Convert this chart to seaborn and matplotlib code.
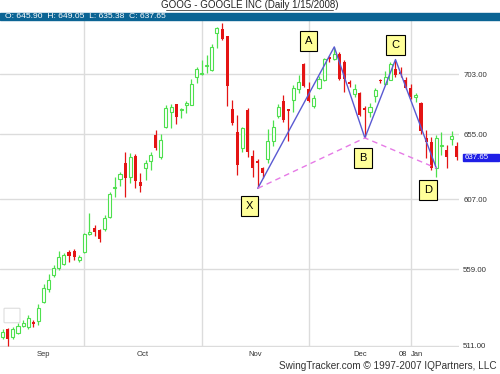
import numpy as np
import pandas as pd
import matplotlib
matplotlib.use("Agg")
import matplotlib.pyplot as plt
import seaborn as sns
from matplotlib.patches import Rectangle, FancyBboxPatch
from matplotlib.lines import Line2D
from matplotlib.ticker import NullLocator, NullFormatter
from matplotlib.transforms import blended_transform_factory

# Daily GOOG candles, 7 Sep 2007 .. 15 Jan 2008
opens = [516.3, 521.0, 516.4, 519.0, 523.2, 522.5, 525.8, 526.0, 538.0, 546.0,
         555.0, 559.8, 562.6, 570.6, 571.0, 565.2, 570.8, 582.8, 586.5, 585.4,
         585.9, 594.5, 614.7, 621.5, 633.5, 623.1, 638.5, 619.5, 630.0, 635.0,
         654.2, 637.6, 660.9, 672.6, 678.5, 674.0, 677.8, 678.4, 700.3, 703.0,
         710.0, 706.3, 737.5, 741.0, 735.0, 674.8, 656.7, 644.8, 674.0, 638.3,
         635.0, 629.7, 636.3, 650.3, 669.5, 681.0, 674.8, 682.0, 690.8, 711.2,
         690.8, 677.2, 692.0, 698.0, 717.0, 716.0, 720.0, 713.2, 696.5, 687.2,
         688.0, 675.4, 672.7, 685.0, 698.6, 695.2, 698.6, 707.2, 705.2, 698.6,
         692.0, 684.7, 679.5, 652.5, 649.3, 629.6, 645.8, 643.0, 651.3, 645.90]
highs = [521.0, 521.7, 522.6, 524.8, 526.7, 529.8, 527.0, 536.7, 549.4, 556.0,
         561.9, 571.2, 570.0, 571.8, 572.3, 568.5, 583.6, 597.0, 588.8, 586.0,
         595.9, 612.3, 623.0, 626.5, 641.7, 640.5, 640.0, 626.0, 635.5, 641.7,
         658.3, 655.0, 677.8, 678.5, 679.0, 676.0, 681.5, 699.4, 709.0, 714.7,
         718.8, 728.5, 743.0, 746.7, 735.5, 682.0, 669.8, 660.4, 675.4, 643.0,
         636.0, 630.5, 659.5, 666.0, 679.0, 685.8, 675.0, 694.0, 702.7, 712.0,
         696.7, 685.8, 701.6, 716.6, 718.5, 725.9, 721.4, 714.7, 698.6, 695.2,
         688.5, 677.0, 679.5, 691.4, 699.4, 705.8, 713.2, 715.2, 709.2, 700.8,
         695.2, 687.5, 680.4, 658.3, 653.2, 654.2, 657.0, 646.8, 657.8, 649.05]
lows = [515.0, 511.0, 514.9, 518.0, 522.5, 521.5, 522.5, 523.8, 537.2, 544.4,
        554.0, 558.7, 561.8, 564.0, 565.2, 564.0, 569.6, 582.3, 581.6, 577.2,
        585.0, 593.6, 608.8, 616.5, 608.8, 618.4, 615.0, 612.0, 621.0, 628.0,
        643.0, 636.0, 659.6, 659.6, 663.4, 667.4, 672.0, 677.7, 696.0, 702.0,
        703.6, 705.5, 724.9, 732.0, 677.5, 662.0, 624.8, 641.7, 638.0, 623.0,
        614.8, 622.0, 633.5, 645.8, 667.4, 664.7, 649.8, 672.6, 687.5, 692.4,
        680.2, 675.7, 690.8, 697.3, 713.0, 715.0, 698.0, 688.5, 692.6, 684.5,
        669.0, 652.3, 668.6, 680.4, 696.0, 694.0, 698.0, 700.8, 700.8, 690.5,
        683.2, 680.4, 655.6, 637.0, 628.0, 623.0, 639.3, 629.6, 646.8, 635.38]
closes = [519.4, 515.4, 521.0, 523.2, 524.8, 527.8, 524.0, 534.0, 546.6, 552.0,
          559.7, 567.4, 568.5, 568.0, 567.0, 567.0, 582.4, 584.0, 584.3, 579.6,
          593.5, 611.0, 616.0, 625.3, 622.4, 638.0, 620.0, 616.6, 633.5, 639.3,
          644.8, 650.6, 676.0, 676.5, 668.6, 675.0, 680.0, 694.8, 707.0, 704.0,
          711.0, 725.7, 741.8, 733.0, 693.2, 663.5, 631.7, 659.9, 641.7, 629.6,
          633.5, 625.7, 650.3, 660.5, 676.5, 666.0, 673.5, 692.0, 696.2, 693.2,
          681.2, 683.8, 699.0, 716.0, 716.0, 720.0, 699.4, 699.4, 695.2, 690.5,
          670.0, 674.0, 676.6, 690.0, 697.0, 700.8, 711.8, 702.2, 703.5, 692.0,
          684.5, 685.8, 657.8, 649.3, 629.6, 652.5, 647.0, 638.0, 653.9, 637.65]

# first trading day of Oct, Nov, Dec, Jan (candle index)
month_starts = [16, 39, 60, 80]
month_labels = ["Sep", "Oct", "Nov", "Dec", "08", "Jan"]
month_label_pos = [8, 27.5, 49.5, 70, 78.5, 81.3]

price_ticks = [511, 559, 607, 655, 703]

# XABCD harmonic pattern
pattern_labels = ["X", "A", "B", "C", "D"]
pattern_day = [50, 65, 71, 77, 85]
pattern_price = [614.8, 725.9, 652.3, 715.2, 629.6]

df = pd.DataFrame({"open": opens, "high": highs, "low": lows, "close": closes})
df["day"] = np.arange(len(df))
up = df[df.close >= df.open]
down = df[df.close < df.open]

sns.set_theme(style="white")
plt.rcParams["font.family"] = ["Liberation Sans", "DejaVu Sans"]

GREEN = "#4ee04e"
RED = "#e41414"
GRID = "#dcdcdc"

fig = plt.figure(figsize=(5, 3.74), dpi=100)
ax = fig.add_axes([0, 27 / 374, 459 / 500, 327 / 374])
ax.set_yscale("log")
ax.set_ylim(510.3, 749.2)
ax.set_xlim(-0.53, 89.45)

# grid
for t in price_ticks:
    ax.axhline(t, color=GRID, lw=1, zorder=0)
for m in month_starts:
    ax.axvline(m, color=GRID, lw=1, zorder=0)

# candles
ax.vlines(up.day, up.low, up.high, color=GREEN, lw=0.9, zorder=2)
ax.bar(up.day, up.close - up.open, bottom=up.open, width=0.6,
       facecolor="white", edgecolor=GREEN, lw=0.8, zorder=3)
ax.vlines(down.day, down.low, down.high, color=RED, lw=0.9, zorder=2)
ax.bar(down.day, down.open - down.close, bottom=down.close, width=0.6,
       color=RED, lw=0, zorder=3)

# pattern legs
sns.lineplot(x=pattern_day, y=pattern_price, sort=False, estimator=None,
             color="#5a5ad2", lw=1, ax=ax, zorder=4)
xbd = [0, 2, 4]
sns.lineplot(x=[pattern_day[i] for i in xbd], y=[pattern_price[i] for i in xbd],
             sort=False, estimator=None, color="#e67ae6", lw=1,
             linestyle=(0, (4, 3)), ax=ax, zorder=4)

label_offsets = [(-8, -18), (-25.5, 5.7), (-2, -20.2), (0, 14.3), (-8, -22)]
for lbl, d, p, off in zip(pattern_labels, pattern_day, pattern_price, label_offsets):
    ax.annotate(lbl, xy=(d, p), xytext=off, textcoords="offset pixels",
                ha="center", va="center", fontsize=8, color="black", zorder=6,
                bbox=dict(boxstyle="square,pad=0.45", fc="#ffff99", ec="black", lw=0.8))

# axes styling
for s in ax.spines.values():
    s.set_visible(False)
ax.set_xlabel("")
ax.set_ylabel("")
ax.yaxis.tick_right()
ax.set_yticks(price_ticks)
ax.set_yticklabels([f"{t:.2f}" for t in price_ticks])
ax.yaxis.set_minor_locator(NullLocator())
ax.yaxis.set_minor_formatter(NullFormatter())
ax.tick_params(axis="y", length=0, pad=3, labelsize=5.7, labelcolor="#333333")
ax.set_xticks(month_label_pos)
ax.set_xticklabels(month_labels)
ax.tick_params(axis="x", length=0, pad=3, labelsize=5.5, labelcolor="#333333")

# last price tag
last = closes[-1]
tr = blended_transform_factory(fig.transFigure, ax.transData)
k = np.exp(3.6 / 852)
fig.patches.append(Rectangle((463 / 500, last / k), 36 / 500, last * k - last / k,
                             transform=tr, color="#1f1fe6", zorder=5))
fig.text(464.5 / 500, 0, f"{last:.2f}", transform=tr, fontsize=5.7, color="white",
         ha="left", va="center", zorder=6).set_y(last)

# header bar with OHLC of the last day
fig.patches.append(Rectangle((0, 1 - 20 / 374), 1, 7.3 / 374,
                             transform=fig.transFigure, color="#0b6494"))
fig.text(5 / 500, 1 - 16.3 / 374,
         f"O: {opens[-1]:.2f}  H: {highs[-1]:.2f}  L: {lows[-1]:.2f}  C: {closes[-1]:.2f}",
         color="white", fontsize=6.1, ha="left", va="center")
fig.text(0.5, 1 - 5 / 374, "GOOG - GOOGLE INC (Daily 1/15/2008)",
         fontsize=7, color="#222222", ha="center", va="center")
fig.add_artist(Line2D([166 / 500, 333 / 500], [1 - 9.5 / 374, 1 - 9.5 / 374],
                      color="#444444", lw=0.6, transform=fig.transFigure))

# small nav icon, bottom left
fig.patches.append(FancyBboxPatch((5 / 500, 1 - 322 / 374), 14 / 500, 13 / 374,
                                  boxstyle="round,pad=0.002", transform=fig.transFigure,
                                  fc="none", ec="#dddddd", lw=0.8))

fig.text(497 / 500, 1 - 366 / 374, "SwingTracker.com © 1997-2007 IQPartners, LLC",
         fontsize=7.2, color="#333333", ha="right", va="center")

fig.savefig("out.png", dpi=100)
